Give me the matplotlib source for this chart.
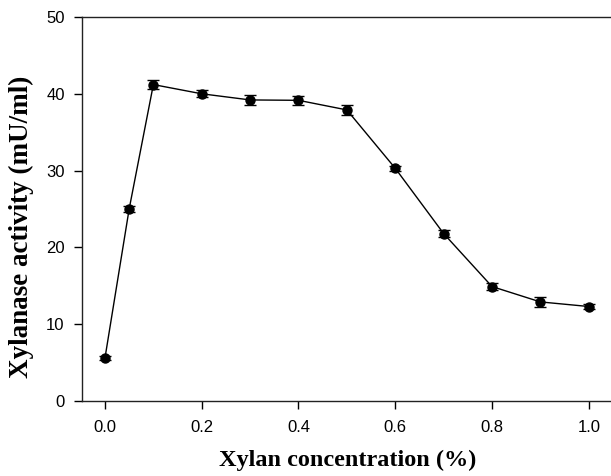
import numpy as np
import matplotlib
matplotlib.use('Agg')
import matplotlib.pyplot as plt

conc = [0.0, 0.05, 0.1, 0.2, 0.3, 0.4, 0.5, 0.6, 0.7, 0.8, 0.9, 1.0]
activity = [5.6, 25.0, 41.2, 40.0, 39.2, 39.15, 37.9, 30.3, 21.8, 14.9, 12.9, 12.3]
err = [0.3, 0.45, 0.6, 0.45, 0.7, 0.55, 0.65, 0.3, 0.5, 0.4, 0.6, 0.35]
xticks = [0.0, 0.2, 0.4, 0.6, 0.8, 1.0]
yticks = [0, 10, 20, 30, 40, 50]

fig = plt.figure(figsize=(6.11, 4.76), dpi=100)
ax = fig.add_axes([0.1342, 0.1576, 0.869, 0.8067])

ax.errorbar(conc, activity, yerr=err, color='black', linewidth=1,
            marker='o', markersize=6.5, capsize=4, elinewidth=1, capthick=1)

ax.set_xlim(-0.0475, 1.05)
ax.set_ylim(0, 50)
ax.set_xticks(xticks)
ax.set_xticklabels(['%.1f' % t for t in xticks])
ax.set_yticks(yticks)
ax.spines['right'].set_visible(False)
for s in ['left', 'bottom', 'top']:
    ax.spines[s].set_linewidth(1)
    ax.spines[s].set_color('#222222')
ax.tick_params(direction='out', length=5.5, width=1, labelsize=12)
ax.tick_params(axis='x', pad=8)
ax.tick_params(axis='y', pad=7)
for lab in ax.get_xticklabels() + ax.get_yticklabels():
    lab.set_fontfamily('Liberation Sans')

ax.set_xlabel('Xylan concentration (%)', fontfamily='Liberation Serif',
              fontweight='bold', fontsize=17.5)
ax.set_ylabel('Xylanase activity (mU/ml)', fontfamily='Liberation Serif',
              fontweight='bold', fontsize=19.5)
ax.xaxis.set_label_coords(0.5, -0.1276)
ax.yaxis.set_label_coords(-0.090, 0.454)

fig.savefig('out.png', dpi=100)
